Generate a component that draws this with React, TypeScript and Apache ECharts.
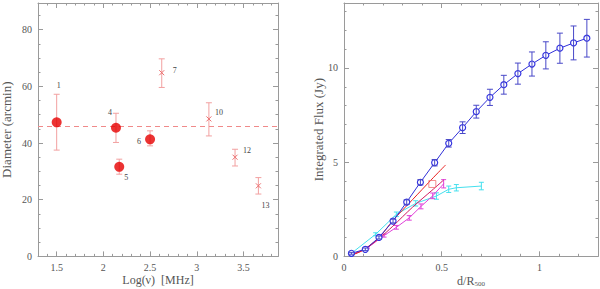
import React, { useEffect, useRef } from "react";
import * as echarts from "echarts";

// ---------- Left panel data ----------
const leftIds = ["1", "4", "5", "6", "7", "10", "12", "13"];
const leftLogNu = [1.5, 2.135, 2.17, 2.5, 2.625, 3.13, 3.41, 3.66];
const leftDiam = [47.3, 45.4, 31.6, 41.3, 64.8, 48.5, 35.0, 24.9];
const leftHi = [57.2, 50.5, 34.3, 44.3, 69.7, 54.2, 37.8, 27.8];
const leftLo = [37.5, 40.2, 29.0, 39.0, 59.6, 42.5, 31.9, 22.0];
const leftFilled = [true, true, true, true, false, false, false, false];
const meanDiameter = 46;
const leftXTicks = [1.5, 2, 2.5, 3, 3.5];
const leftYTicks = [0, 20, 40, 60, 80];

// ---------- Right panel data ----------
const blueX = [0.038, 0.109, 0.179, 0.251, 0.321, 0.391, 0.464, 0.536, 0.607, 0.677, 0.747, 0.818, 0.89, 0.962, 1.033, 1.105, 1.175, 1.243];
const blueY = [0.16, 0.37, 1.0, 1.87, 2.88, 3.93, 4.97, 6.0, 6.83, 7.68, 8.44, 9.11, 9.7, 10.21, 10.67, 11.05, 11.33, 11.58];
const blueErr = [0.05, 0.07, 0.08, 0.1, 0.12, 0.14, 0.17, 0.2, 0.31, 0.34, 0.43, 0.5, 0.56, 0.64, 0.72, 0.8, 0.9, 1.0];

const cyanX = [0.038, 0.162, 0.268, 0.367, 0.473, 0.536, 0.575, 0.703];
const cyanY = [0.16, 1.17, 2.23, 2.81, 3.2, 3.56, 3.64, 3.73];
const cyanErr = [0.05, 0.08, 0.12, 0.14, 0.17, 0.17, 0.17, 0.2];

const magX = [0.038, 0.12, 0.205, 0.268, 0.334, 0.394, 0.454, 0.51];
const magY = [0.08, 0.45, 1.1, 1.54, 2.04, 2.65, 3.21, 3.85];
const magErr = [0.03, 0.05, 0.08, 0.1, 0.12, 0.13, 0.15, 0.22];

const redX = [0.03, 0.1, 0.18, 0.25, 0.35, 0.45, 0.52];
const redY = [0.03, 0.35, 1.0, 1.9, 3.0, 4.1, 4.85];
const crimX = [0.03, 0.1, 0.18, 0.25, 0.35, 0.45, 0.51];
const crimY = [0.03, 0.33, 0.95, 1.6, 2.6, 3.5, 4.05];
const squareX = [0.452];
const squareY = [3.84];
const rightXTicks = [0, 0.5, 1];
const rightYTicks = [0, 5, 10];

// ---------- styles ----------
const labelOffsets = [[2, -37], [-6, -15], [7, 11], [-11, 2], [13, -2], [10, -6], [12, -7], [7, 20]];
const FONT = "Liberation Serif";
const AXIS_COLOR = "#9a9a9a";
const TEXT_COLOR = "#555";

function axisSet(dim: "x" | "y", grid: number, min: number, max: number, major: number[], minorInt: number, name: any, nameGap: number, nameRich?: any) {
  const pos0 = dim === "x" ? "bottom" : "left";
  const pos1 = dim === "x" ? "top" : "right";
  const base = { type: "value", gridIndex: grid, min, max, splitLine: { show: false } };
  const majorAxis = (position: string, labels: boolean) => ({
    ...base,
    position,
    axisLine: { show: true, onZero: false, lineStyle: { color: AXIS_COLOR, width: 1 } },
    axisTick: { show: true, inside: true, length: 5, customValues: major, lineStyle: { color: AXIS_COLOR } },
    axisLabel: labels
      ? { show: true, customValues: major, fontFamily: FONT, fontSize: 10, color: TEXT_COLOR, margin: 6 }
      : { show: false },
    ...(labels
      ? {
          name,
          nameLocation: "middle",
          nameGap,
          nameMoveOverlap: false,
          nameTextStyle: { fontFamily: FONT, fontSize: dim === "x" ? 12 : 13, color: TEXT_COLOR, rich: nameRich },
        }
      : {}),
  });
  const minorAxis = (position: string) => ({
    ...base,
    position,
    interval: minorInt,
    axisLine: { show: false, onZero: false },
    axisTick: { show: true, inside: true, length: 2.5, lineStyle: { color: AXIS_COLOR } },
    axisLabel: { show: false },
  });
  return [majorAxis(pos0, true), minorAxis(pos0), majorAxis(pos1, false), minorAxis(pos1)];
}

function errRender(color: string, cap: number) {
  return (params: any, api: any) => {
    const x = api.value(0);
    const lo = api.value(2);
    const hi = api.value(3);
    const t = api.coord([x, hi]);
    const b = api.coord([x, lo]);
    const st = { stroke: color, lineWidth: 1 };
    return {
      type: "group",
      children: [
        { type: "line", shape: { x1: t[0], y1: t[1], x2: b[0], y2: b[1] }, style: st },
        { type: "line", shape: { x1: t[0] - cap, y1: t[1], x2: t[0] + cap, y2: t[1] }, style: st },
        { type: "line", shape: { x1: b[0] - cap, y1: b[1], x2: b[0] + cap, y2: b[1] }, style: st },
      ],
    };
  };
}

export default function App() {
  const ref = useRef<HTMLDivElement>(null);
  useEffect(() => {
    if (!ref.current) return;
    const chart = echarts.init(ref.current, null, { renderer: "svg" });

    const leftErrData = leftLogNu.map((x, i) => [x, leftDiam[i], leftLo[i], leftHi[i]]);
    const leftCrossData = leftLogNu.map((x, i) => [x, leftDiam[i], leftFilled[i] ? 1 : 0]);
    const filledData = leftLogNu.map((x, i) => (leftFilled[i] ? [x, leftDiam[i]] : null)).filter(Boolean);

    const errData = (xs: number[], ys: number[], es: number[]) => xs.map((x, i) => [x, ys[i], ys[i] - es[i], ys[i] + es[i]]);
    const pts = (xs: number[], ys: number[]) => xs.map((x, i) => [x, ys[i]]);

    const xAxes = [
      ...axisSet("x", 0, 1.3, 3.87, leftXTicks, 0.1, "Log(ν)  [MHz]", 18),
      ...axisSet("x", 1, 0, 1.3, rightXTicks, 0.1, "d/R{s|500}", 18, {
        s: { fontFamily: FONT, fontSize: 7, color: TEXT_COLOR, padding: [6, 0, 0, 0] },
      }),
    ];
    const yAxes = [
      ...axisSet("y", 0, 0, 89.4, leftYTicks, 5, "Diameter (arcmin)", 25),
      ...axisSet("y", 1, 0, 13.45, rightYTicks, 1, "Integrated Flux (Jy)", 19),
    ];

    const option: any = {
      animation: false,
      grid: [
        { left: 38, right: 322, top: 3, bottom: 32.6, containLabel: false, outerBoundsMode: "none" },
        { left: 344, right: 2, top: 3, bottom: 32.7, containLabel: false, outerBoundsMode: "none" },
      ],
      xAxis: xAxes,
      yAxis: yAxes,
      series: [
        // ---- left panel ----
        {
          type: "line",
          xAxisIndex: 0,
          yAxisIndex: 0,
          data: [],
          markLine: {
            silent: true,
            symbol: "none",
            label: { show: false },
            lineStyle: { color: "#f08a8a", type: [5, 4], width: 1 },
            data: [{ yAxis: meanDiameter }],
          },
        },
        {
          type: "custom",
          xAxisIndex: 0,
          yAxisIndex: 0,
          data: leftErrData,
          encode: { x: 0, y: [1, 2, 3] },
          renderItem: errRender("#f2a0a0", 3),
          z: 2,
        },
        {
          type: "custom",
          xAxisIndex: 0,
          yAxisIndex: 0,
          data: leftCrossData,
          encode: { x: 0, y: 1 },
          renderItem: (params: any, api: any) => {
            const i = params.dataIndex;
            const p = api.coord([api.value(0), api.value(1)]);
            const off = labelOffsets[i];
            const children: any[] = [
              {
                type: "text",
                x: p[0] + off[0],
                y: p[1] + off[1],
                style: {
                  text: leftIds[i],
                  fontFamily: FONT,
                  fontSize: 8,
                  fill: "#444",
                  align: "center",
                  verticalAlign: "middle",
                },
              },
            ];
            if (!api.value(2)) {
              const st = { stroke: "#ec7070", lineWidth: 1 };
              const d = 2.5;
              children.push(
                { type: "line", shape: { x1: p[0] - d, y1: p[1] - d, x2: p[0] + d, y2: p[1] + d }, style: st },
                { type: "line", shape: { x1: p[0] - d, y1: p[1] + d, x2: p[0] + d, y2: p[1] - d }, style: st }
              );
            }
            return { type: "group", children };
          },
          z: 4,
        },
        {
          type: "scatter",
          xAxisIndex: 0,
          yAxisIndex: 0,
          data: filledData,
          symbol: "circle",
          symbolSize: 10,
          itemStyle: { color: "#e60000" },
          z: 5,
        },
        // ---- right panel ----
        {
          type: "line",
          xAxisIndex: 4,
          yAxisIndex: 4,
          data: pts(cyanX, cyanY),
          showSymbol: false,
          lineStyle: { color: "#45e0ee", width: 1 },
          z: 2,
        },
        {
          type: "custom",
          xAxisIndex: 4,
          yAxisIndex: 4,
          data: errData(cyanX, cyanY, cyanErr),
          encode: { x: 0, y: [1, 2, 3] },
          renderItem: errRender("#45e0ee", 2.5),
          z: 2,
        },
        {
          type: "line",
          xAxisIndex: 4,
          yAxisIndex: 4,
          data: pts(magX, magY),
          showSymbol: false,
          lineStyle: { color: "#e040d8", width: 1 },
          z: 3,
        },
        {
          type: "custom",
          xAxisIndex: 4,
          yAxisIndex: 4,
          data: errData(magX, magY, magErr),
          encode: { x: 0, y: [1, 2, 3] },
          renderItem: errRender("#e040d8", 2.5),
          z: 3,
        },
        {
          type: "line",
          xAxisIndex: 4,
          yAxisIndex: 4,
          data: pts(crimX, crimY),
          showSymbol: false,
          smooth: 0.3,
          lineStyle: { color: "#d01860", width: 1 },
          z: 3,
        },
        {
          type: "line",
          xAxisIndex: 4,
          yAxisIndex: 4,
          data: pts(redX, redY),
          showSymbol: false,
          smooth: 0.3,
          lineStyle: { color: "#e82020", width: 1 },
          z: 3,
        },
        {
          type: "scatter",
          xAxisIndex: 4,
          yAxisIndex: 4,
          data: pts(squareX, squareY),
          symbol: "rect",
          symbolSize: 7,
          itemStyle: { color: "none", borderColor: "#f07070", borderWidth: 1 },
          z: 4,
        },
        {
          type: "line",
          xAxisIndex: 4,
          yAxisIndex: 4,
          data: pts(blueX, blueY),
          symbol: "circle",
          symbolSize: 6,
          showSymbol: true,
          lineStyle: { color: "#3030d8", width: 1 },
          itemStyle: { color: "#fff", borderColor: "#3535e0", borderWidth: 1.2 },
          z: 5,
        },
        {
          type: "custom",
          xAxisIndex: 4,
          yAxisIndex: 4,
          data: errData(blueX, blueY, blueErr),
          encode: { x: 0, y: [1, 2, 3] },
          renderItem: errRender("#4848c8", 3),
          z: 6,
        },
      ],
    };
    chart.setOption(option);
    return () => chart.dispose();
  }, []);

  return <div ref={ref} style={{ width: 600, height: 289, position: "absolute", left: 0, top: 0, background: "#fff" }} />;
}
